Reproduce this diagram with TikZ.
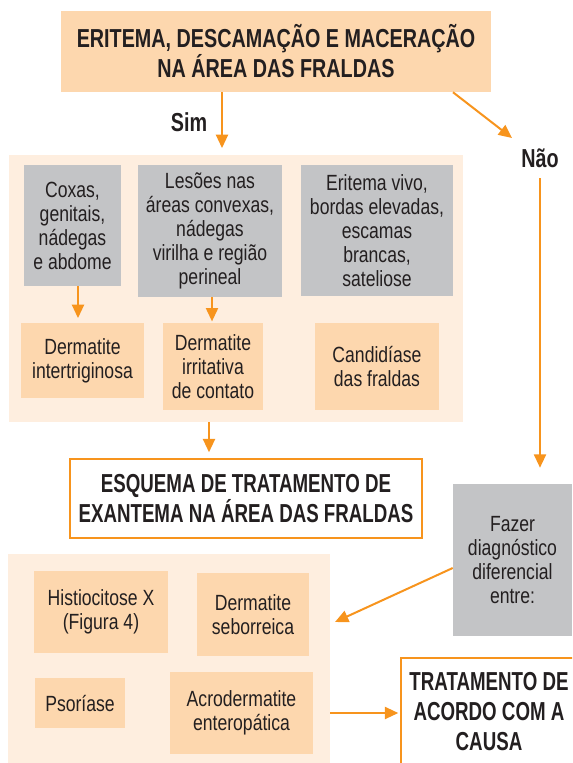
\documentclass[tikz,border=0pt]{standalone}
\usepackage{fontspec}
\setmainfont{Liberation Sans}[FakeStretch=0.8]
\newfontfamily\ttlfont{Liberation Sans}[FakeStretch=0.72]
\newfontfamily\topfont{Liberation Sans}[FakeStretch=0.76]
\usetikzlibrary{arrows.meta,calc}
\definecolor{peach}{HTML}{FDD7AE}
\definecolor{panelc}{HTML}{FEEEDF}
\definecolor{grayb}{HTML}{C3C4C6}
\definecolor{arr}{HTML}{F7941D}
\definecolor{txt}{HTML}{231F20}
\begin{document}
\begin{tikzpicture}[x=0.75pt,y=-0.75pt,
  every node/.style={text=txt, inner sep=0pt, align=center},
  wh/.style 2 args={minimum width={#1*0.75pt}, minimum height={#2*0.75pt}},
  body/.style={font=\fontsize{16.5}{18}\selectfont},
  ttl/.style={font=\ttlfont\fontsize{19.5}{22.5}\selectfont\bfseries},
  toptl/.style={font=\topfont\fontsize{19.5}{22.5}\selectfont\bfseries},
  pbox/.style={fill=peach, body},
  gbox/.style={fill=grayb, body},
  panel/.style={fill=panelc},
  obox/.style={draw=arr, line width=1.1pt, fill=white},
  conn/.style={draw=arr, line width=1.5pt, -{Triangle[length=10pt,width=9pt]}}]
\useasboundingbox (0,0) rectangle (572,763);
\clip (0,0) rectangle (572,763);

% top
\node[fill=peach, toptl, wh={430}{81}] (top) at (276,51.5)
  {ERITEMA, DESCAMAÇÃO E MACERAÇÃO\\NA ÁREA DAS FRALDAS};
\node[toptl] (sim) at (189,122) {Sim};
\node[toptl] (nao) at (540,158) {Não};

% panel 1
\node[panel, wh={454}{267}] (p1) at (236,288.5) {};
\node[gbox, wh={97}{121}] (g1) at (72.5,225.5) {Coxas,\\genitais,\\nádegas\\e abdome};
\node[gbox, wh={144}{132}] (g2) at (210,231) {Lesões nas\\áreas convexas,\\nádegas\\virilha e região\\perineal};
\node[gbox, wh={152}{131}] (g3) at (377,230.5) {Eritema vivo,\\bordas elevadas,\\escamas\\brancas,\\sateliose};
\node[pbox, wh={123}{75}] (o1) at (82.5,360.5) {Dermatite\\intertriginosa};
\node[pbox, wh={100}{87}] (o2) at (213,366.5) {Dermatite\\irritativa\\de contato};
\node[pbox, wh={124}{87}] (o3) at (377,366.5) {Candidíase\\das fraldas};

% middle
\node[obox, ttl, wh={352}{79}] (esq) at (246,498.5)
  {ESQUEMA DE TRATAMENTO DE\\EXANTEMA NA ÁREA DAS FRALDAS};
\node[gbox, wh={119}{152}] (faz) at (512.5,560) {Fazer\\diagnóstico\\diferencial\\entre:};

% panel 2
\node[panel, wh={322}{216}] (p2) at (169,662) {};
\node[pbox, wh={134}{82}] (h) at (101,612) {Histiocitose X\\(Figura 4)};
\node[pbox, wh={112}{83}] (ds) at (253,614.5) {Dermatite\\seborreica};
\node[pbox, wh={90}{50}] (ps) at (80,703) {Psoríase};
\node[pbox, wh={143}{82}] (ac) at (241.5,713) {Acrodermatite\\enteropática};

% bottom right
\node[obox, wh={199}{142}] (tb) at (500.5,729) {};
\node[ttl] (trat) at (489,712) {TRATAMENTO DE\\ACORDO COM A\\CAUSA};

% connectors
\coordinate (xs) at (222,0);
\coordinate (xn) at (453,0);
\coordinate (naotip) at (512,138);
\coordinate (x1) at (78,0);
\coordinate (x2) at (212,0);
\coordinate (x3) at (209,0);
\coordinate (yf) at (0,568);
\coordinate (dtip) at (335,622);

\draw[conn, shorten >=5pt] (top.south -| xs) -- (p1.north -| xs);
\draw[conn] (top.south -| xn) -- (naotip);
\draw[conn, shorten <=8pt, shorten >=12pt] (nao.south) -- (faz.north -| nao.south);
\draw[conn, shorten >=3.5pt] (g1.south -| x1) -- (o1.north -| x1);
\draw[conn, shorten >=1pt] (g2.south -| x2) -- (o2.north -| x2);
\draw[conn, shorten >=4.5pt] (p1.south -| x3) -- (esq.north -| x3);
\draw[conn] (faz.west |- yf) -- (dtip);
\draw[conn, shorten >=1.5pt] (p2.east |- ac.east) -- (tb.west |- ac.east);
\end{tikzpicture}
\end{document}
